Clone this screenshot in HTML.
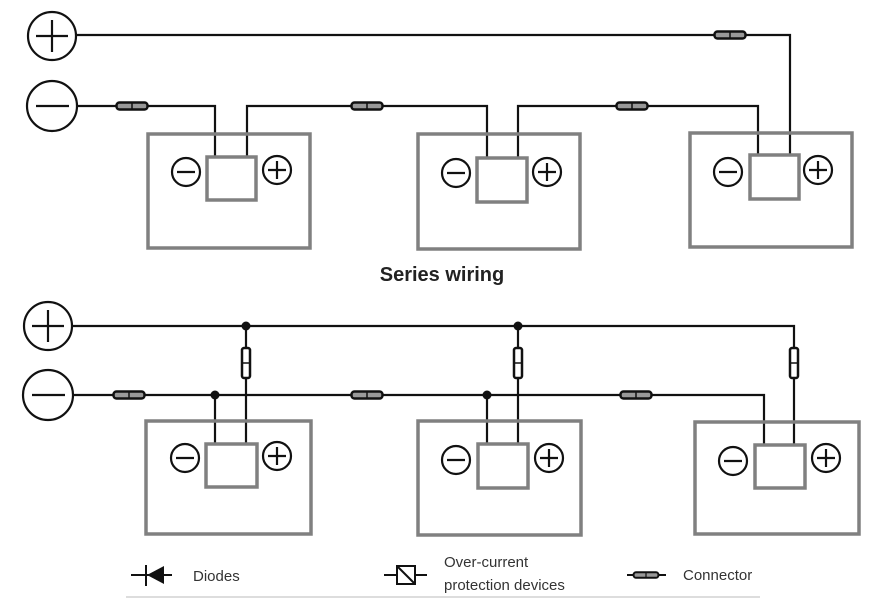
<!DOCTYPE html>
<html><head><meta charset="utf-8"><style>
html,body{margin:0;padding:0;background:#fff;width:870px;height:600px;overflow:hidden}
svg{display:block}
text{font-family:"Liberation Sans",Arial,sans-serif}
</style></head><body>
<svg width="870" height="600" viewBox="0 0 870 600" xmlns="http://www.w3.org/2000/svg">
<defs>
<g id="connH">
<rect x="-15.5" y="-3.5" width="31" height="7" rx="3" fill="#999" stroke="#111" stroke-width="2.5"/>
<line x1="0" y1="-3" x2="0" y2="3" stroke="#111" stroke-width="1.5"/>
</g>
<g id="fuseV">
<rect x="-4" y="-15" width="8" height="30" rx="2" fill="#fff" stroke="#111" stroke-width="2.5"/>
<line x1="-3" y1="0" x2="3" y2="0" stroke="#111" stroke-width="1.5"/>
</g>
<g id="minus"><circle r="14" fill="#fff" stroke="#111" stroke-width="2.2"/><line x1="-9" y1="0" x2="9" y2="0" stroke="#111" stroke-width="2.2"/></g>
<g id="plus"><circle r="14" fill="#fff" stroke="#111" stroke-width="2.2"/><line x1="-9" y1="0" x2="9" y2="0" stroke="#111" stroke-width="2.2"/><line x1="0" y1="-9" x2="0" y2="9" stroke="#111" stroke-width="2.2"/></g>
</defs>

<g fill="none" stroke="#111" stroke-width="2.2">
<!-- Top section -->
<circle cx="52" cy="36" r="24"/><line x1="36" y1="36" x2="68" y2="36"/><line x1="52" y1="20" x2="52" y2="52"/>
<circle cx="52" cy="106" r="25"/><line x1="36" y1="106" x2="69" y2="106"/>
<polyline points="76,35 790,35 790,156"/>
<polyline points="77,106 215,106 215,158"/>
<polyline points="247,158 247,106 487,106 487,159"/>
<polyline points="518,159 518,106 758,106 758,156"/>
<!-- Bottom section -->
<circle cx="48" cy="326" r="24"/><line x1="32" y1="326" x2="64" y2="326"/><line x1="48" y1="310" x2="48" y2="342"/>
<circle cx="48" cy="395" r="25"/><line x1="32" y1="395" x2="65" y2="395"/>
<polyline points="72,326 794,326 794,445"/>
<polyline points="73,395 764,395 764,445"/>
<line x1="215" y1="395" x2="215" y2="445"/>
<line x1="246" y1="326" x2="246" y2="445"/>
<line x1="487" y1="395" x2="487" y2="445"/>
<line x1="518" y1="326" x2="518" y2="445"/>
</g>
<g fill="#111">
<circle cx="246" cy="326" r="4.5"/><circle cx="518" cy="326" r="4.5"/>
<circle cx="215" cy="395" r="4.5"/><circle cx="487" cy="395" r="4.5"/>
</g>

<!-- Batteries -->
<g fill="none" stroke="#808080" stroke-width="3.5">
<rect x="148" y="134" width="162" height="114"/><rect x="207" y="157" width="49" height="43"/>
<rect x="418" y="134" width="162" height="115"/><rect x="477" y="158" width="50" height="44"/>
<rect x="690" y="133" width="162" height="114"/><rect x="750" y="155" width="49" height="44"/>
<rect x="146" y="421" width="165" height="113"/><rect x="206" y="444" width="51" height="43"/>
<rect x="418" y="421" width="163" height="114"/><rect x="478" y="444" width="50" height="44"/>
<rect x="695" y="422" width="164" height="112"/><rect x="755" y="445" width="50" height="43"/>
</g>
<use href="#minus" x="186" y="172"/><use href="#plus" x="277" y="170"/>
<use href="#minus" x="456" y="173"/><use href="#plus" x="547" y="172"/>
<use href="#minus" x="728" y="172"/><use href="#plus" x="818" y="170"/>
<use href="#minus" x="185" y="458"/><use href="#plus" x="277" y="456"/>
<use href="#minus" x="456" y="460"/><use href="#plus" x="549" y="458"/>
<use href="#minus" x="733" y="461"/><use href="#plus" x="826" y="458"/>

<!-- Connectors -->
<use href="#connH" x="730" y="35"/>
<use href="#connH" x="132" y="106"/>
<use href="#connH" x="367" y="106"/>
<use href="#connH" x="632" y="106"/>
<use href="#connH" x="129" y="395"/>
<use href="#connH" x="367" y="395"/>
<use href="#connH" x="636" y="395"/>
<use href="#fuseV" x="246" y="363"/>
<use href="#fuseV" x="518" y="363"/>
<use href="#fuseV" x="794" y="363"/>

<text x="442" y="281" font-size="20" font-weight="bold" text-anchor="middle" fill="#222">Series wiring</text>

<!-- Legend -->
<g stroke="#111" stroke-width="2">
<line x1="131" y1="575" x2="172" y2="575"/>
<line x1="146" y1="565" x2="146" y2="586"/>
</g>
<polygon points="147,575 164,566 164,584" fill="#111"/>
<text x="193" y="581" font-size="15" fill="#333">Diodes</text>

<g stroke="#111" stroke-width="2" fill="none">
<line x1="384" y1="575" x2="397" y2="575"/><line x1="415" y1="575" x2="427" y2="575"/>
<rect x="397" y="566" width="18" height="18"/><line x1="397" y1="566" x2="415" y2="584"/>
</g>
<text x="444" y="567" font-size="15" fill="#333">Over-current</text>
<text x="444" y="590" font-size="15" fill="#333">protection devices</text>

<line x1="627" y1="575" x2="666" y2="575" stroke="#111" stroke-width="2"/>
<g transform="translate(646,575) scale(0.8)"><use href="#connH"/></g>
<text x="683" y="580" font-size="15" fill="#333">Connector</text>

<line x1="126" y1="597" x2="760" y2="597" stroke="#bbb" stroke-width="1"/>
</svg>
</body></html>
